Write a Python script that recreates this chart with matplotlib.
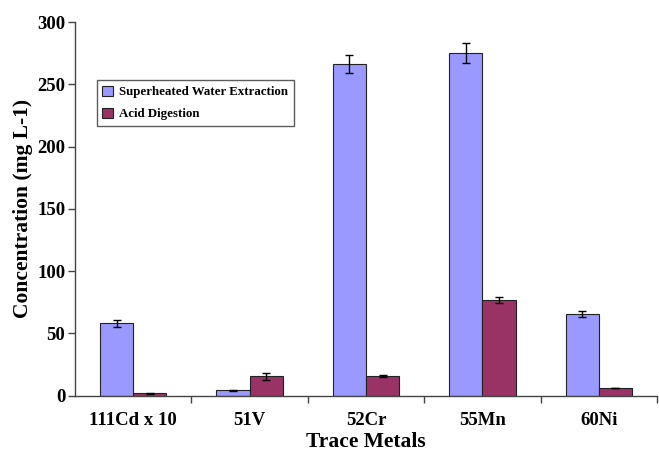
import matplotlib
matplotlib.use("Agg")
import matplotlib.pyplot as plt
import numpy as np

categories = ["111Cd x 10", "51V", "52Cr", "55Mn", "60Ni"]
swe_values = [58.2, 4.2, 266.0, 275.5, 65.5]
swe_errors = [2.7, 0.5, 7.2, 8.0, 2.2]
acid_values = [1.8, 15.5, 16.0, 77.0, 5.8]
acid_errors = [0.5, 3.0, 1.0, 2.3, 0.0]

plt.rcParams["font.family"] = ["Liberation Serif", "DejaVu Serif"]
plt.rcParams["font.weight"] = "bold"

fig = plt.figure(figsize=(6.59, 4.51), dpi=100)
ax = fig.add_axes([0.1138, 0.1226, 0.8832, 0.8284])

x = np.arange(len(categories))
w = 0.286
err_kw = dict(elinewidth=1.0, capsize=3, capthick=1.0, ecolor="black")
ax.bar(x - w / 2, swe_values, w, yerr=swe_errors, color="#9999FF",
       edgecolor="#222222", linewidth=0.8, error_kw=err_kw,
       label="Superheated Water Extraction")
ax.bar(x + w / 2, acid_values, w, yerr=acid_errors, color="#993366",
       edgecolor="#222222", linewidth=0.8, error_kw=err_kw,
       label="Acid Digestion")

ax.set_xlim(-0.5, len(categories) - 0.5)
ax.set_ylim(0, 300)
ax.set_yticks(np.arange(0, 301, 50))
ax.set_xticks(x)
ax.set_xticklabels(categories)
ax.set_xticks(np.arange(0.5, len(categories), 1.0), minor=True)
ax.tick_params(axis="x", which="major", length=0, pad=12, labelsize=13.5)
ax.tick_params(axis="x", which="minor", length=5, width=1.0, color="#444444", direction="out")
ax.tick_params(axis="y", length=5, width=1.0, color="#444444", labelsize=13.5, pad=2)
for lbl in ax.get_xticklabels() + ax.get_yticklabels():
    lbl.set_fontweight("bold")

for side in ("top", "right"):
    ax.spines[side].set_visible(False)
for side in ("left", "bottom"):
    ax.spines[side].set_color("#444444")
    ax.spines[side].set_linewidth(1.0)

ax.set_ylabel("Concentration (mg L-1)", fontsize=15.5, fontweight="bold", labelpad=3)
ax.set_xlabel("Trace Metals", fontsize=15.5, fontweight="bold", labelpad=2)

leg = ax.legend(loc="upper left", bbox_to_anchor=(0.037, 0.845), fontsize=9.3,
                frameon=True, fancybox=False, edgecolor="#333333",
                handlelength=0.8, handleheight=0.8, handletextpad=0.5,
                borderpad=0.45, labelspacing=0.75, borderaxespad=0)
leg.get_frame().set_linewidth(1.0)
for t in leg.get_texts():
    t.set_fontweight("bold")

fig.savefig("out.png", dpi=100)
